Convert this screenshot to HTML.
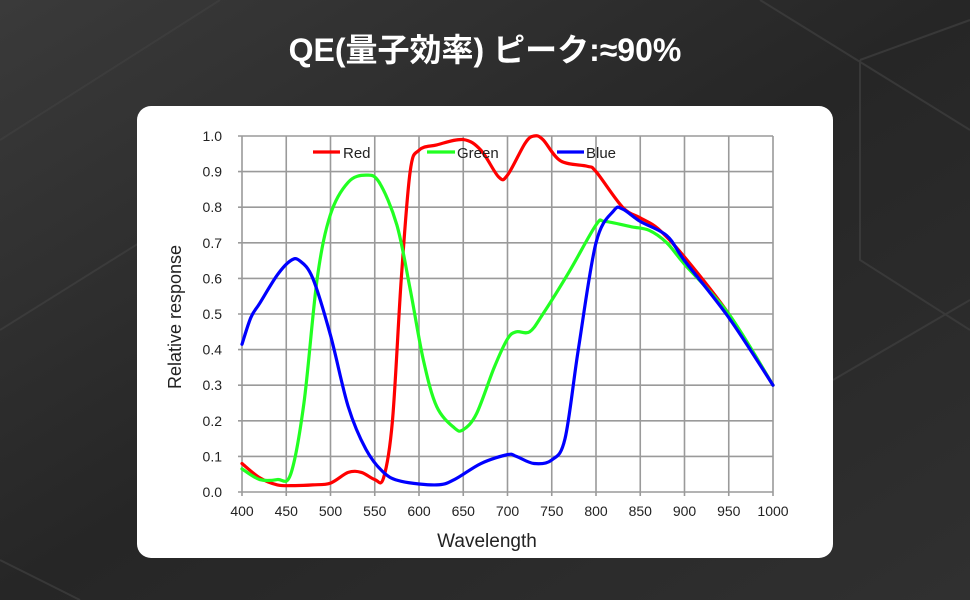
<!DOCTYPE html>
<html><head><meta charset="utf-8"><style>
html,body{margin:0;padding:0;width:970px;height:600px;overflow:hidden;background:#2b2b2b}
</style></head><body>
<svg id="s" width="970" height="600" viewBox="0 0 970 600" xmlns="http://www.w3.org/2000/svg" style="display:block">
<defs><linearGradient id="bg" x1="0" y1="0" x2="1" y2="1">
<stop offset="0" stop-color="#3a3a3a"/><stop offset="0.5" stop-color="#262626"/><stop offset="1" stop-color="#303030"/></linearGradient></defs>
<rect width="970" height="600" fill="url(#bg)"/>
<g stroke="#404040" stroke-width="2" fill="none" opacity="0.7">
<path d="M0 140 L220 0"/><path d="M0 330 L160 230"/><path d="M760 0 L970 130"/><path d="M860 60 L970 20"/><path d="M860 60 L860 260 L970 330"/><path d="M833 380 L970 300"/><path d="M0 560 L80 600"/>
</g>
<text x="485" y="61" text-anchor="middle" fill="#fff" font-family="'Liberation Sans','Noto Sans CJK JP',sans-serif" font-weight="bold" font-size="32">QE(量子効率) ピーク:≈90%</text>
<rect x="137" y="106" width="696" height="452" rx="14" fill="#fff"/>
<g id="grid" stroke="#9a9a9a" stroke-width="1.6"></g>
<g id="lab" font-family="'Liberation Sans',sans-serif" font-size="14" fill="#222"></g>
<text x="487" y="547" text-anchor="middle" font-family="'Liberation Sans',sans-serif" font-size="19" fill="#222">Wavelength</text>
<text transform="translate(181,317) rotate(-90)" text-anchor="middle" font-family="'Liberation Sans',sans-serif" font-size="18" fill="#222">Relative response</text>
<g id="curves" fill="none" stroke-width="3.2" stroke-linejoin="round" stroke-linecap="round"></g>
<g font-family="'Liberation Sans',sans-serif" font-size="15" fill="#222">
<line x1="313" y1="152" x2="340" y2="152" stroke="#f00" stroke-width="3.2"/><text x="343" y="158">Red</text>
<line x1="427" y1="152" x2="455" y2="152" stroke="#2f2" stroke-width="3.2"/><text x="457" y="158">Green</text>
<line x1="557" y1="152" x2="584" y2="152" stroke="#00f" stroke-width="3.2"/><text x="586" y="158">Blue</text>
</g>
</svg>
<script>
var NS="http://www.w3.org/2000/svg";
function X(w){return 242+(w-400)*0.885}function Y(v){return 492-v*356}
var g=document.getElementById('grid'),lab=document.getElementById('lab');
function el(p,t,a,txt){var e=document.createElementNS(NS,t);for(var k in a)e.setAttribute(k,a[k]);if(txt!=null)e.textContent=txt;p.appendChild(e);return e}
for(var i=0;i<=12;i++){var x=X(400+50*i);el(g,'line',{x1:x,y1:136,x2:x,y2:496});el(lab,'text',{x:x,y:516,'text-anchor':'middle'},String(400+50*i))}
for(var j=0;j<=10;j++){var y=Y(j/10);el(g,'line',{x1:238,y1:y,x2:773,y2:y});el(lab,'text',{x:222,y:y+5,'text-anchor':'end'},(j/10).toFixed(1))}
function path(pts){var p=pts.map(function(a){return[X(a[0]),Y(a[1])]});var d='M'+p[0][0]+' '+p[0][1];
for(var i=0;i<p.length-1;i++){var p0=p[Math.max(0,i-1)],p1=p[i],p2=p[i+1],p3=p[Math.min(p.length-1,i+2)];
d+=' C'+(p1[0]+(p2[0]-p0[0])/6)+' '+(p1[1]+(p2[1]-p0[1])/6)+' '+(p2[0]-(p3[0]-p1[0])/6)+' '+(p2[1]-(p3[1]-p1[1])/6)+' '+p2[0]+' '+p2[1]}return d}
var R=[[400,0.08],[420,0.04],[440,0.02],[460,0.018],[480,0.02],[500,0.025],[520,0.055],[535,0.055],[550,0.035],[560,0.04],[570,0.2],[580,0.6],[590,0.9],[600,0.96],[620,0.975],[650,0.99],[670,0.96],[690,0.885],[700,0.89],[720,0.98],[730,1.0],[740,0.99],[760,0.93],[790,0.915],[800,0.9],[830,0.8],[850,0.77],[870,0.74],[900,0.66],[950,0.5],[1000,0.3]];
var G=[[400,0.065],[420,0.035],[440,0.035],[455,0.05],[470,0.25],[485,0.6],[500,0.78],[520,0.87],[540,0.89],[555,0.87],[575,0.75],[590,0.57],[605,0.37],[620,0.24],[640,0.18],[650,0.175],[665,0.22],[685,0.35],[700,0.43],[710,0.45],[725,0.45],[740,0.5],[770,0.62],[800,0.75],[810,0.76],[840,0.745],[860,0.735],[880,0.7],[900,0.64],[950,0.5],[1000,0.3]];
var B=[[400,0.415],[410,0.49],[420,0.53],[440,0.61],[455,0.65],[465,0.65],[480,0.6],[500,0.44],[520,0.24],[540,0.12],[560,0.055],[580,0.03],[620,0.02],[640,0.035],[670,0.08],[700,0.105],[710,0.1],[730,0.08],[750,0.09],[765,0.15],[780,0.4],[800,0.7],[820,0.79],[830,0.795],[850,0.76],[880,0.72],[900,0.65],[950,0.49],[1000,0.3]];
var c=document.getElementById('curves');
el(c,'path',{d:path(R),stroke:'#f00'});el(c,'path',{d:path(G),stroke:'#2f2'});el(c,'path',{d:path(B),stroke:'#00f'});
</script>
</body></html>
